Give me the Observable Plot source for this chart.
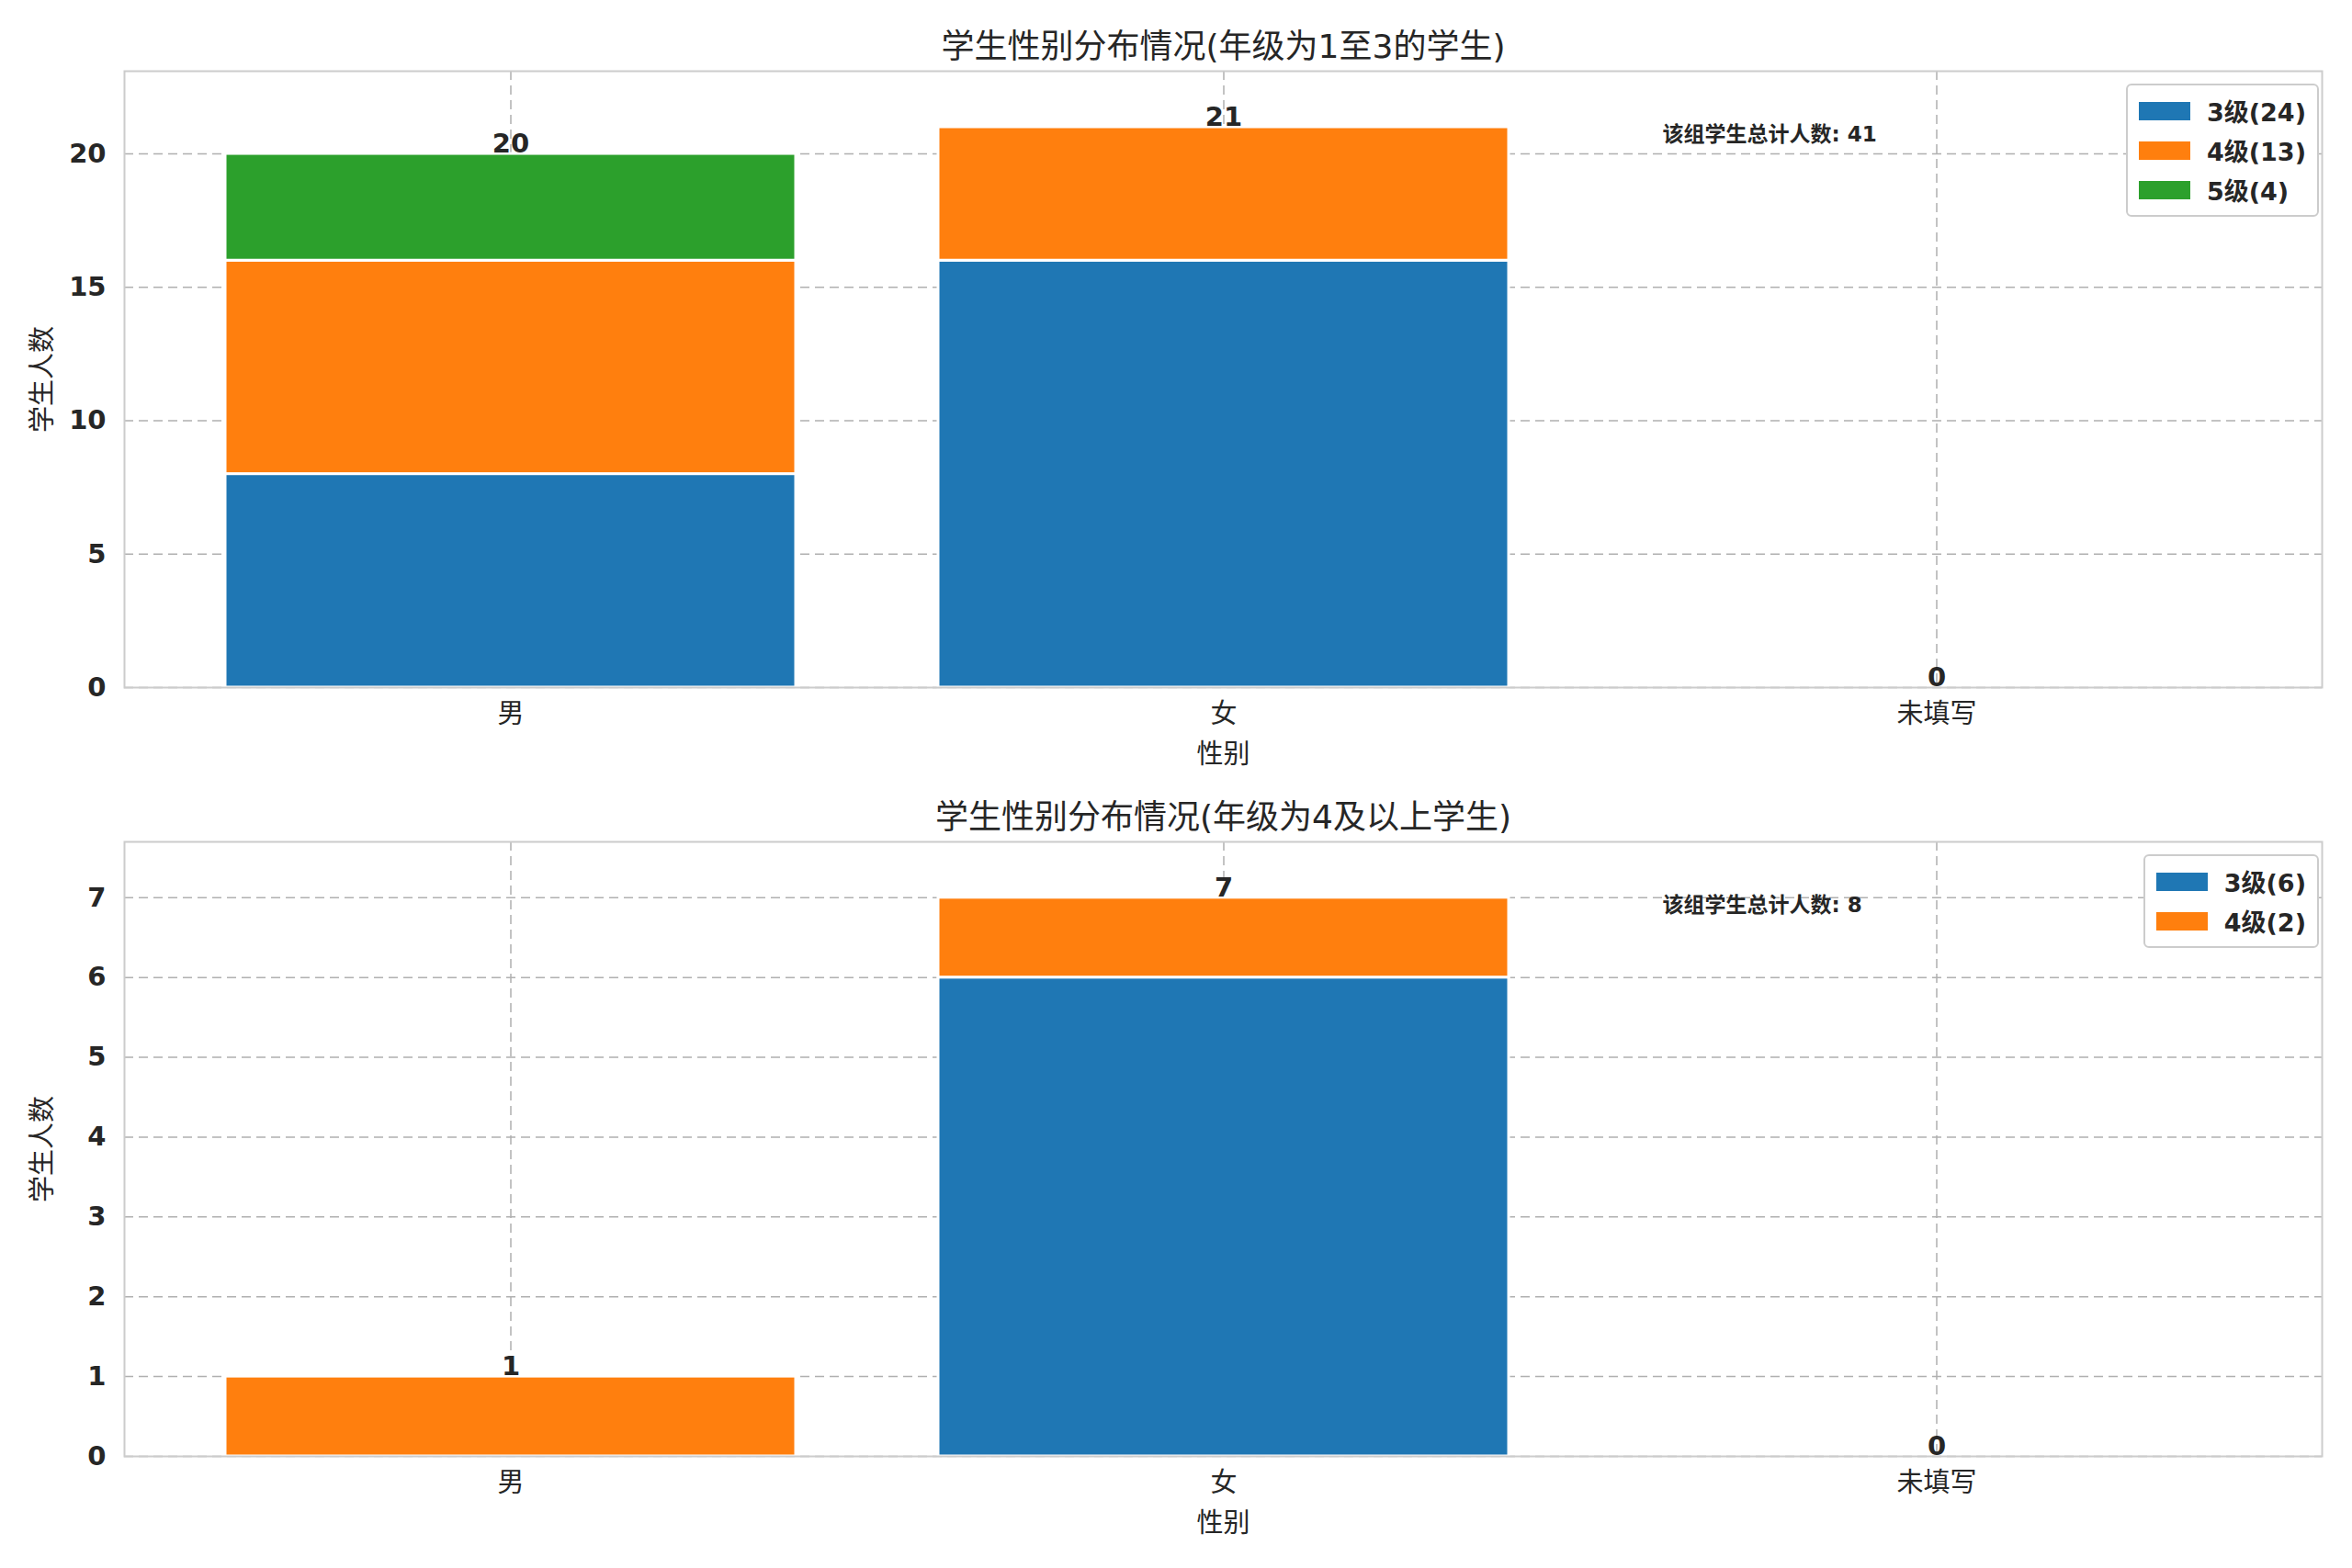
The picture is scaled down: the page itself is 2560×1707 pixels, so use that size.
<!DOCTYPE html>
<html><head><meta charset="utf-8">
<script src="https://cdn.jsdelivr.net/npm/d3@7"></script>
<script src="https://cdn.jsdelivr.net/npm/@observablehq/plot@0.6"></script>
<style>
body{margin:0;background:#fff;font-family:"DejaVu Sans","Noto Sans CJK SC",sans-serif;}
.panel{position:relative;width:2560px;height:853px;}
.legend{position:absolute;border:2px solid #ccc;border-radius:6px;background:#fff;padding:6px 12px;font-weight:bold;font-size:27px;color:#262626;}
.legend div{display:flex;align-items:center;height:43px;}
.legend span.sw{display:inline-block;width:56px;height:20px;margin-right:18px;}
</style></head><body>
<div id="c"></div>
<script>
const categories = ["男", "女", "未填写"];
const colors = {"3级": "#1f77b4", "4级": "#ff7f0e", "5级": "#2ca02c"};
// panel 1
const title1 = "学生性别分布情况(年级为1至3的学生)";
const sex1 =   ["男", "男", "男", "女", "女"];
const level1 = ["3级", "4级", "5级", "3级", "4级"];
const count1 = [8, 8, 4, 16, 5];
const totals1 = [20, 21, 0];
const legend1 = ["3级(24)", "4级(13)", "5级(4)"];
const note1 = "该组学生总计人数: 41";
const yMax1 = 23.1, yTicks1 = [0, 5, 10, 15, 20];
// panel 2
const title2 = "学生性别分布情况(年级为4及以上学生)";
const sex2 =   ["男", "女", "女"];
const level2 = ["4级", "3级", "4级"];
const count2 = [1, 6, 1];
const totals2 = [1, 7, 0];
const legend2 = ["3级(6)", "4级(2)"];
const note2 = "该组学生总计人数: 8";
const yMax2 = 7.7, yTicks2 = [0, 1, 2, 3, 4, 5, 6, 7];

function panel(title, sex, level, count, totals, legend, note, yMax, yTicks, mt, mb) {
  const data = sex.map((s, i) => ({sex: s, level: level[i], count: count[i]}));
  const tot = categories.map((c, i) => ({sex: c, total: totals[i]}));
  const order = ["3级", "4级", "5级"];
  const plot = Plot.plot({
    width: 2560, height: 853, marginTop: mt, marginBottom: mb, marginLeft: 135, marginRight: 33,
    style: {fontFamily: '"DejaVu Sans","Noto Sans CJK SC",sans-serif', fontSize: "29px", color: "#262626", background: "#fff"},
    x: {domain: categories, paddingInner: 0.2, paddingOuter: 0.14, label: "性别", labelAnchor: "center", labelOffset: 82, tickSize: 0, tickPadding: 18},
    y: {domain: [0, yMax], ticks: yTicks, label: "学生人数", labelArrow: "none", labelAnchor: "center", labelOffset: 100, tickSize: 0, tickPadding: 20, tickFormat: d => d},
    marks: [
      Plot.gridY(yTicks, {stroke: "#b0b0b0", strokeOpacity: 1, strokeDasharray: "10,6", strokeWidth: 1.5}),
      Plot.gridX(categories, {stroke: "#b0b0b0", strokeOpacity: 1, strokeDasharray: "10,6", strokeWidth: 1.5}),
      Plot.barY(data, Plot.stackY({x: "sex", y: "count", fill: d => colors[d.level], order: d => order.indexOf(d.level), stroke: "white", strokeWidth: 3})),
      Plot.frame({stroke: "#cccccc", strokeWidth: 2}),
      Plot.text(tot, {x: "sex", y: "total", text: d => String(d.total), dy: -11, fontWeight: "bold", fontSize: 29, fill: "#262626"}),
      Plot.text([note], {frameAnchor: "top-right", text: d => d, dx: -718, dy: 60, textAnchor: "start", fontWeight: "bold", fontSize: 23, fill: "#262626"}),
      Plot.text([title], {frameAnchor: "top", text: d => d, dy: -40, fontSize: 36, fill: "#262626"})
    ]
  });
  d3.select(plot).selectAll("[aria-label='y-axis tick label'] text").style("font-weight", "bold");
  const div = document.createElement("div");
  div.className = "panel";
  div.appendChild(plot);
  const lg = document.createElement("div");
  lg.className = "legend";
  lg.style.right = "36px"; lg.style.top = (mt + 14) + "px";
  legend.forEach((l, i) => {
    const r = document.createElement("div");
    r.innerHTML = `<span class="sw" style="background:${colors[order[i]]}"></span>${l}`;
    lg.appendChild(r);
  });
  div.appendChild(lg);
  document.getElementById("c").appendChild(div);
}
panel(title1, sex1, level1, count1, totals1, legend1, note1, yMax1, yTicks1, 77, 105);
panel(title2, sex2, level2, count2, totals2, legend2, note2, yMax2, yTicks2, 63, 121);
</script></body></html>
